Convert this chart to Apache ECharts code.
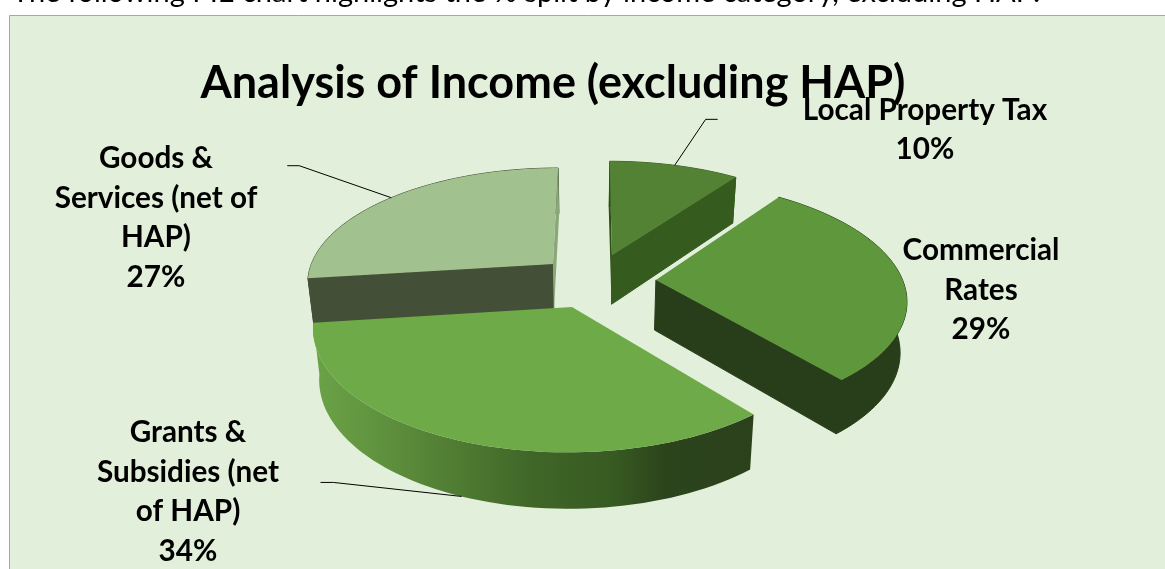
<!DOCTYPE html>
<html>
<head>
<meta charset="utf-8">
<style>html,body{margin:0;padding:0;background:#fff}#chart{width:1165px;height:569px}</style>
<script src="https://cdn.jsdelivr.net/npm/echarts@6/dist/echarts.min.js"></script>
</head>
<body>
<div id="chart"></div>
<script>
// Income split, clockwise from twelve o'clock
const categories = ['Local Property Tax', 'Commercial Rates', 'Grants & Subsidies (net of HAP)', 'Goods & Services (net of HAP)'];
const shares = [10, 29, 34, 27];
const labelLines = [
  ['Local Property Tax'],
  ['Commercial', 'Rates'],
  ['Grants &', 'Subsidies (net', 'of HAP)'],
  ['Goods &', 'Services (net of', 'HAP)']
];

// Slice styling and placement
const explosion = [60, 62, 58, 56];
const paintOrder = [1, 2, 3, 0];
const topColors = ['#548235', '#5f973c', '#6eaa47', '#a1c18e'];
const wallColors = ['#365b1f', '#283d19', null, '#434f36'];
const edgeColors = ['#2f4f1b', null, null, '#8aa77a'];
const labelCentres = [[925, 130], [981, 290], [188, 492], [156, 218]];
const leaderElbows = [[31, -46, 12], [null], [-128, -14, -13], [-92, -32, -12]];

// Perspective view of the pie's top plane
const CX = 594, CY = 281, RADIUS = 247, TILT = 0.466, PERSP = 0.000604, DEPTH = 50, TAPER = 0.978;
const FONT = 'Lato, "Open Sans", sans-serif';
const total = shares.reduce((a, b) => a + b, 0);
const rad = d => d * Math.PI / 180;

function project(x, y) {
  const w = 1 + PERSP * y;
  return [CX + x / w, CY - TILT * y / w, w];
}
function lower(p) {
  return [CX + (p[0] - CX) * TAPER, p[1] + DEPTH / Math.pow(p[2], 0.6)];
}
function sliceGeometry(i) {
  const before = shares.slice(0, i).reduce((a, b) => a + b, 0);
  const a0 = before / total * 360, a1 = (before + shares[i]) / total * 360, mid = (a0 + a1) / 2;
  const ox = explosion[i] * Math.sin(rad(mid)), oy = explosion[i] * Math.cos(rad(mid));
  const rim = a => project(ox + RADIUS * Math.sin(rad(a)), oy + RADIUS * Math.cos(rad(a)));
  return { a0, a1, mid, rim, apex: project(ox, oy) };
}
const flat = p => [p[0], p[1]];

function renderSlice(params, api) {
  const i = params.dataIndex;
  const g = sliceGeometry(i);
  const arc = [];
  for (let k = 0; k <= 64; k++) arc.push(g.rim(g.a0 + (g.a1 - g.a0) * k / 64));
  const base = paintOrder[i] * 10;
  const children = [];
  const poly = (points, fill, z, seam) => children.push({
    type: 'polygon', shape: { points },
    style: { fill, stroke: seam ? fill : null, lineWidth: seam ? 1 : 0 },
    z2: base + z
  });

  // Outer wall
  const wall = arc.map(flat).concat(arc.map(lower).reverse());
  if (wallColors[i]) {
    poly(wall, wallColors[i], 0, true);
  } else {
    poly(wall, new echarts.graphic.LinearGradient(0, 0, 1, 0, [
      { offset: 0, color: '#6ba247' }, { offset: 0.12, color: '#629640' },
      { offset: 0.3, color: '#527f34' }, { offset: 0.5, color: '#3f6627' },
      { offset: 0.68, color: '#375a22' }, { offset: 0.8, color: '#2c441c' },
      { offset: 1, color: '#2b411c' }
    ]), 0, false);
  }

  // Cut faces that turn towards the viewer
  const face = (a, color, z) => {
    const r = g.rim(a);
    poly([flat(r), flat(g.apex), lower(g.apex), lower(r)], color, z, true);
  };
  if (Math.sin(rad(g.a0)) < -1e-6) face(g.a0, wallColors[i], 1);
  if (Math.sin(rad(g.a1)) > 1e-6) face(g.a1, wallColors[i], 1);

  // Nearly edge-on faces along the twelve o'clock cut
  [g.a0, g.a1].forEach(a => {
    if (Math.abs(Math.sin(rad(a))) <= 1e-6 && edgeColors[i]) {
      const r = g.rim(a);
      const nudge = Math.sign(Math.sin(rad(g.mid))) * -1;
      poly([flat(r), [r[0] + nudge, lower(r)[1]], lower(g.apex), flat(g.apex)], edgeColors[i], 1, false);
    }
  });

  // Top face
  poly([flat(g.apex)].concat(arc.map(flat)), topColors[i], 2, false);

  // Value label
  children.push({
    type: 'text',
    z2: 60,
    style: {
      text: labelLines[i].concat(Math.round(api.value(1)) + '%').join('\n'),
      x: labelCentres[i][0], y: labelCentres[i][1],
      align: 'center', verticalAlign: 'middle',
      font: 'bold 29.7px ' + FONT, lineHeight: 39.7, fill: '#000'
    }
  });

  // Leader line from the rim of the slice
  if (leaderElbows[i][0] !== null) {
    let anchor = flat(g.rim(g.mid));
    if (g.mid > 90 && g.mid < 270) anchor = lower(g.rim(g.mid));
    const [dx, dy, tail] = leaderElbows[i];
    const elbow = [anchor[0] + dx, anchor[1] + dy];
    children.push({
      type: 'polyline', z2: 50,
      shape: { points: [anchor, elbow, [elbow[0] + tail, elbow[1]]] },
      style: { stroke: '#000', lineWidth: 1, fill: null }
    });
  }
  return { type: 'group', children };
}

const chart = echarts.init(document.getElementById('chart'), null, { renderer: 'canvas' });
chart.setOption({
  animation: false,
  backgroundColor: '#fff',
  graphic: [
    {
      type: 'rect', z: -10, silent: true,
      shape: { x: 9.5, y: 15.5, width: 1170, height: 570 },
      style: { fill: '#e2efda', stroke: '#a6a6a6', lineWidth: 1 }
    },
    {
      type: 'text', z: -5, silent: true,
      style: {
        text: 'The following PIE chart highlights the % split by income category, excluding HAP:',
        x: 12, y: -7, align: 'left', verticalAlign: 'middle',
        font: '29px ' + FONT, fill: '#000'
      }
    }
  ],
  title: {
    text: 'Analysis of Income (excluding HAP)',
    left: 548, top: 56, textAlign: 'center',
    textStyle: { fontFamily: FONT, fontWeight: 'bold', fontSize: 45, color: '#000' }
  },
  series: [{
    type: 'custom',
    coordinateSystem: 'none',
    renderItem: renderSlice,
    data: categories.map((name, i) => ({ name, value: [i, shares[i]] }))
  }]
});
</script>
</body>
</html>
